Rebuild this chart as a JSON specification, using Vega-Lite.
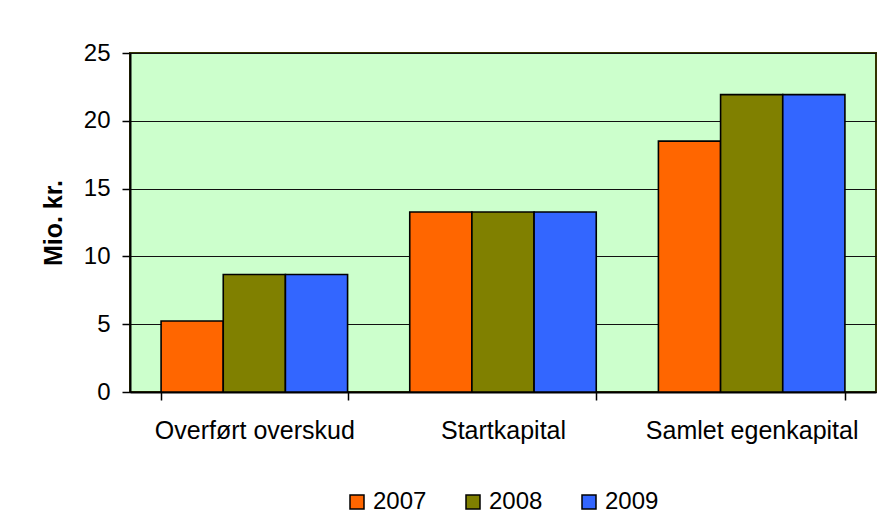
{
  "$schema": "https://vega.github.io/schema/vega-lite/v6.json",
  "width": 746,
  "height": 339,
  "autosize": {"type": "none"},
  "padding": {"left": 130, "top": 53, "right": 9, "bottom": 125},
  "background": "white",
  "config": {
    "font": "Liberation Sans",
    "view": {"fill": "#CCFFCC", "stroke": "#333300", "strokeWidth": 2},
    "axis": {
      "labelFont": "Liberation Sans",
      "titleFont": "Liberation Sans",
      "labelColor": "black",
      "titleColor": "black",
      "domainColor": "black",
      "tickColor": "black"
    }
  },
  "data": {
    "values": [
      {"kategori": "Overført overskud", "år": "2007", "værdi": 5.24},
      {"kategori": "Overført overskud", "år": "2008", "værdi": 8.67},
      {"kategori": "Overført overskud", "år": "2009", "værdi": 8.67},
      {"kategori": "Startkapital", "år": "2007", "værdi": 13.27},
      {"kategori": "Startkapital", "år": "2008", "værdi": 13.27},
      {"kategori": "Startkapital", "år": "2009", "værdi": 13.27},
      {"kategori": "Samlet egenkapital", "år": "2007", "værdi": 18.5},
      {"kategori": "Samlet egenkapital", "år": "2008", "værdi": 21.93},
      {"kategori": "Samlet egenkapital", "år": "2009", "værdi": 21.93}
    ]
  },
  "mark": {"type": "bar", "stroke": "black", "strokeWidth": 1.6},
  "encoding": {
    "x": {
      "field": "kategori",
      "type": "nominal",
      "sort": ["Overført overskud", "Startkapital", "Samlet egenkapital"],
      "scale": {"paddingInner": 0.25, "paddingOuter": 0.125},
      "axis": {
        "title": null,
        "labelAngle": 0,
        "labelFontSize": 25,
        "labelLimit": 0,
        "tickBand": "extent",
        "tickSize": 8,
        "tickWidth": 1.5,
        "labelPadding": 18,
        "domainWidth": 2
      }
    },
    "xOffset": {
      "field": "år",
      "type": "nominal",
      "scale": {"paddingInner": 0, "paddingOuter": 0}
    },
    "y": {
      "field": "værdi",
      "type": "quantitative",
      "scale": {"domain": [0, 25], "nice": false},
      "axis": {
        "title": "Mio. kr.",
        "titleFontSize": 25,
        "titleFontWeight": "bold",
        "titlePadding": 17,
        "labelFontSize": 24,
        "values": [0, 5, 10, 15, 20, 25],
        "tickSize": 8,
        "tickWidth": 1.5,
        "labelPadding": 12,
        "domainWidth": 2,
        "grid": true,
        "gridColor": "#111111",
        "gridWidth": 1
      }
    },
    "color": {
      "field": "år",
      "type": "nominal",
      "scale": {"domain": ["2007", "2008", "2009"], "range": ["#FF6600", "#808000", "#3366FF"]},
      "legend": {
        "title": null,
        "orient": "none",
        "legendX": 215,
        "legendY": 437,
        "direction": "horizontal",
        "symbolType": "square",
        "symbolSize": 196,
        "symbolStrokeColor": "black",
        "symbolStrokeWidth": 1.5,
        "symbolOpacity": 1,
        "labelFontSize": 24,
        "labelFont": "Liberation Sans",
        "labelColor": "black",
        "labelOffset": 4,
        "columnPadding": 34
      }
    }
  }
}
